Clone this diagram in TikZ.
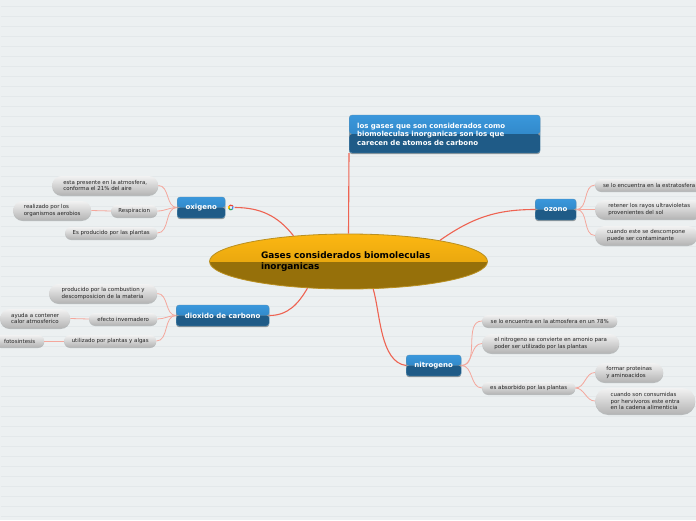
\documentclass[tikz,border=0pt]{standalone}
\usepackage{fontspec}
\setmainfont{DejaVu Sans}
\usepackage{tikz}
\usetikzlibrary{shapes.geometric,shapes.misc,shadows}
\definecolor{sheetbg}{HTML}{ECF0F1}
\definecolor{sheetline}{HTML}{E3E8EA}
\definecolor{bluetop}{HTML}{3A97DC}
\definecolor{bluemid}{HTML}{2A7DB8}
\definecolor{bluelow}{HTML}{1F5B87}
\definecolor{blueedge}{HTML}{5C93B8}
\definecolor{goldtop}{HTML}{FCB712}
\definecolor{goldmid}{HTML}{D99A0C}
\definecolor{goldlow}{HTML}{96700A}
\definecolor{goldedge}{HTML}{B98F20}
\definecolor{pilltop}{HTML}{F2F2F2}
\definecolor{pilllow}{HTML}{B5B5B5}
\definecolor{pillink}{HTML}{222222}
\definecolor{mainlink}{HTML}{EE6352}
\definecolor{sublink}{HTML}{F4A79C}
\definecolor{markred}{HTML}{EA4335}
\definecolor{markyellow}{HTML}{FBBC05}
\definecolor{markgreen}{HTML}{34A853}
\definecolor{markblue}{HTML}{4285F4}

\begin{document}
\begin{tikzpicture}[
  x=1pt, y=-1pt,
  root/.style={ellipse, draw=goldedge, line width=0.8pt, inner sep=0pt,
    minimum width=278pt, minimum height=55pt, text width=175pt, align=left, text=black,
    font=\fontsize{8.95}{11}\selectfont\bfseries,
    path picture={
      \shade[top color=goldtop, bottom color=goldmid]
        (path picture bounding box.north west) rectangle (path picture bounding box.east);
      \fill[goldlow]
        (path picture bounding box.west) rectangle (path picture bounding box.south east);}},
  topic/.style={draw=blueedge, rounded corners=3pt, inner sep=0pt, anchor=west,
    minimum height=21pt, align=left, text=white,
    font=\fontsize{7}{8.6}\selectfont\bfseries,
    drop shadow={shadow xshift=0pt, shadow yshift=-1.2pt, opacity=0.35, fill=black},
    path picture={
      \shade[top color=bluetop, bottom color=bluemid]
        (path picture bounding box.north west) rectangle (path picture bounding box.east);
      \fill[bluelow]
        (path picture bounding box.west) rectangle (path picture bounding box.south east);}},
  pill/.style={rounded rectangle, top color=pilltop, bottom color=pilllow,
    inner sep=0pt, anchor=west, minimum height=12pt, align=left, text=pillink,
    font=\fontsize{5.45}{6.6}\selectfont,
    drop shadow={shadow xshift=0pt, shadow yshift=-1pt, opacity=0.22, fill=black}},
  tall/.style={pill, minimum height=19pt},
  branch/.style={draw=mainlink, line width=1.1pt},
  twig/.style={draw=sublink, line width=0.8pt}
]
  \useasboundingbox (0,0) rectangle (696,520);
  \fill[sheetbg] (0,0) rectangle (696,520);
  \draw[sheetline, line width=0.6pt, xstep=800pt, ystep=10pt, yshift=-6.5pt] (1,-10) grid (696,520);

  \node[root] (gases) at (348.5,261.5) {Gases considerados biomoleculas\\inorganicas};

  \node[topic, minimum width=191pt, minimum height=38pt, text width=175pt] (gasesdef) at (349,134)
    {los gases que son considerados como\\biomoleculas inorganicas son los que\\carecen de atomos de carbono};
  \node[topic, minimum width=48pt] (oxigeno) at (177,207.5) {oxigeno};
  \node[topic, minimum width=93pt] (dioxido) at (176,315.5) {dioxido de carbono};
  \node[topic, minimum width=41pt] (ozono) at (535,209.5) {ozono};
  \node[topic, minimum width=55pt] (nitrogeno) at (406,365.5) {nitrogeno};

  % mark beside the oxigeno box
  \node[circle, inner sep=0pt, minimum size=7pt] (gmark) at (231,207.5) {};
  \draw[line width=1.2pt, markred] (gmark.center) ++(210:2.3) arc (210:330:2.3);
  \draw[line width=1.2pt, markyellow] (gmark.center) ++(150:2.3) arc (150:210:2.3);
  \draw[line width=1.2pt, markgreen] (gmark.center) ++(50:2.3) arc (50:150:2.3);
  \draw[line width=1.2pt, markblue] (gmark.center) ++(-30:2.3) arc (-30:50:2.3);

  % oxigeno
  \node[tall, minimum width=106pt] (oxaire) at (52,185.5) {esta presente en la atmosfera,\\conforma el 21\% del aire};
  \node[pill, minimum width=46pt] (oxresp) at (111,211) {Respiracion};
  \node[tall, minimum width=78pt] (oxorg) at (13,210.5) {realizado por los\\organismos aerobios};
  \node[pill, minimum width=92pt] (oxplant) at (65,233) {Es producido por las plantas};

  % dioxido de carbono
  \node[tall, minimum width=108pt] (coburn) at (49,293.5) {producido por la combustion y\\descomposicion de la materia};
  \node[pill, minimum width=68pt] (coefecto) at (89,319) {efecto invernadero};
  \node[tall, minimum width=70pt] (cocalor) at (0,318.5) {ayuda a contener\\calor atmosferico};
  \node[pill, minimum width=92pt] (coplant) at (64,341) {utilizado por plantas y algas};
  \node[pill, minimum width=49pt] (cofoto) at (-5,341) {fotosintesis};

  % ozono
  \node[pill, minimum width=108pt] (ozestr) at (595,185) {se lo encuentra en la estratosfera};
  \node[tall, minimum width=108pt] (ozrayos) at (595,209.5) {retener los rayos ultravioletas\\provenientes del sol};
  \node[tall, minimum width=102pt] (ozcont) at (595,235.5) {cuando este se descompone\\puede ser contaminante};

  % nitrogeno
  \node[pill, minimum width=135pt] (niatm) at (482,321) {se lo encuentra en la atmosfera en un 78\%};
  \node[tall, minimum width=137pt] (niamon) at (482,343.5) {el nitrogeno se convierte en amonio para\\poder ser utilizado por las plantas};
  \node[pill, minimum width=93pt] (niabs) at (482,388) {es absorbido por las plantas};
  \node[tall, minimum width=68pt] (niprot) at (595,372.5) {formar proteinas\\y aminoacidos};
  \node[tall, minimum width=100pt, minimum height=26pt] (nicadena) at (595,401)
    {cuando son consumidas\\por hervivoros este entra\\en la cadena alimenticia};

  \draw[branch] (gases.north) -- (gasesdef.south west);
  \draw[branch] (gases.155) to[out=128,in=0] (gmark.east);
  \draw[branch] (gases.213) to[out=240,in=0] (dioxido.east);
  \draw[branch] (gases.13.7) to[out=35,in=180] (ozono.west);
  \draw[branch] (gases.312) to[out=286,in=172,looseness=0.8] (nitrogeno.west);

  \draw[twig] (oxigeno.west) to[out=180,in=0] (oxaire.east);
  \draw[twig] (oxigeno.west) to[out=180,in=0] (oxresp.east);
  \draw[twig] (oxigeno.west) to[out=180,in=0] (oxplant.east);
  \draw[twig] (oxresp.west) -- (oxorg.east);

  \draw[twig] (dioxido.west) to[out=180,in=0] (coburn.east);
  \draw[twig] (dioxido.west) to[out=180,in=0] (coefecto.east);
  \draw[twig] (dioxido.west) to[out=180,in=0] (coplant.east);
  \draw[twig] (coefecto.west) -- (cocalor.east);
  \draw[twig] (coplant.west) -- (cofoto.east);

  \draw[twig] (ozono.east) to[out=0,in=180] (ozestr.west);
  \draw[twig] (ozono.east) to[out=0,in=180] (ozrayos.west);
  \draw[twig] (ozono.east) to[out=0,in=180] (ozcont.west);

  \draw[twig] (nitrogeno.east) to[out=0,in=180] (niatm.west);
  \draw[twig] (nitrogeno.east) to[out=0,in=180] (niamon.west);
  \draw[twig] (nitrogeno.east) to[out=0,in=180] (niabs.west);
  \draw[twig] (niabs.east) to[out=0,in=180] (niprot.west);
  \draw[twig] (niabs.east) to[out=0,in=180] (nicadena.west);
\end{tikzpicture}
\end{document}
